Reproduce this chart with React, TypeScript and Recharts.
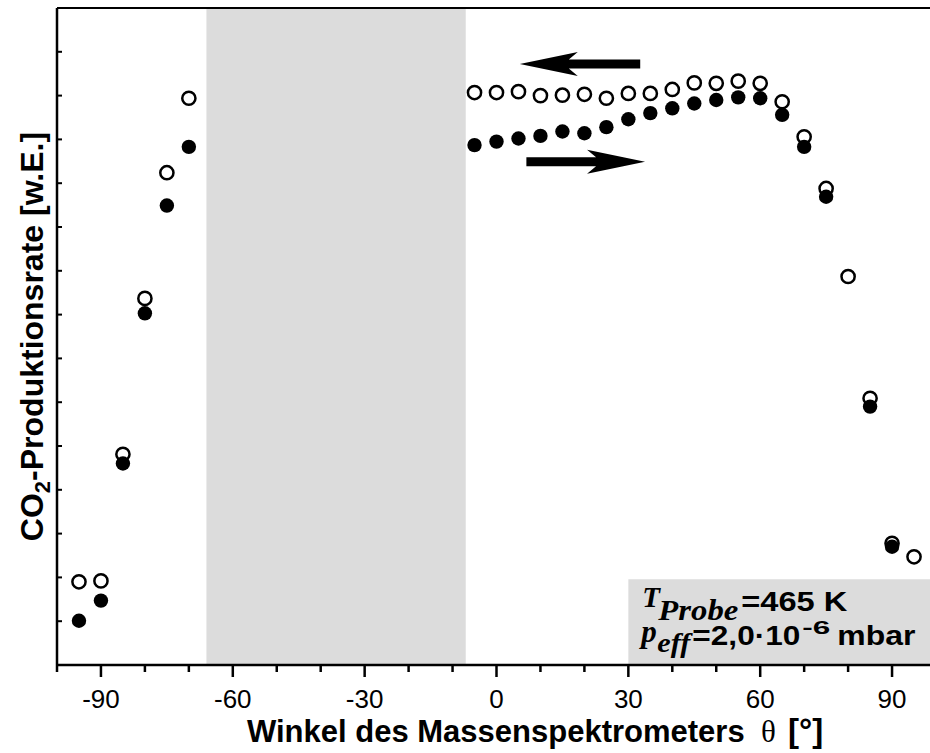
import React from 'react';
import { ScatterChart, Scatter, XAxis, YAxis, ReferenceArea, ReferenceLine } from 'recharts';

// ---- data ----
const openAngles = [-95, -90, -85, -80, -75, -70, -5, 0, 5, 10, 15, 20, 25, 30, 35, 40, 45, 50, 55, 60, 65, 70, 75, 80, 85, 90, 95];
const openRates = [1.90, 1.92, 4.81, 8.37, 11.24, 12.94, 13.07, 13.07, 13.09, 13.00, 13.01, 13.03, 12.94, 13.05, 13.05, 13.14, 13.29, 13.28, 13.33, 13.28, 12.86, 12.06, 10.88, 8.87, 6.09, 2.78, 2.47];

const filledAngles = [-95, -90, -85, -80, -75, -70, -5, 0, 5, 10, 15, 20, 25, 30, 35, 40, 45, 50, 55, 60, 65, 70, 75, 85, 90];
const filledRates = [1.01, 1.47, 4.60, 8.03, 10.49, 11.83, 11.87, 11.95, 12.02, 12.08, 12.18, 12.14, 12.28, 12.46, 12.60, 12.71, 12.82, 12.90, 12.96, 12.94, 12.56, 11.83, 10.69, 5.90, 2.70];

const xTicks = [-100, -90, -80, -70, -60, -50, -40, -30, -20, -10, 0, 10, 20, 30, 40, 50, 60, 70, 80, 90, 100];
const yTicks = [0, 1, 2, 3, 4, 5, 6, 7, 8, 9, 10, 11, 12, 13, 14, 15];

const shadedFrom = -66;
const shadedTo = -7;
const boxX = [30, 100];
const boxY = [0, 1.96];

const arrowBack = [{ x: 32.7, y: 13.72 }, { x: 5.3, y: 13.72 }];
const arrowForward = [{ x: 6.8, y: 11.49 }, { x: 33.8, y: 11.49 }];

const openData = openAngles.map((a, i) => ({ angle: a, rate: openRates[i] }));
const filledData = filledAngles.map((a, i) => ({ angle: a, rate: filledRates[i] }));

const SANS = '"Liberation Sans", Arial, Helvetica, sans-serif';
const SERIF = '"Liberation Serif", "Times New Roman", Times, serif';

const XTick = (props: any) => {
  const { x, y, payload } = props;
  const v = payload.value;
  const major = v % 30 === 0 && Math.abs(v) <= 90;
  return (
    <g>
      <line x1={x} x2={x} y1={y} y2={y + (major ? 12 : 7)} stroke="#000" strokeWidth={2.5} />
      {major && (
        <text x={x} y={y + 43} textAnchor="middle" fontSize={26} fontFamily={SANS} fill="#000">
          {v}
        </text>
      )}
    </g>
  );
};

const YTick = (props: any) => {
  const { x, y } = props;
  return <line x1={x} x2={x + 5} y1={y} y2={y} stroke="#000" strokeWidth={2} />;
};

const XTitle = (props: any) => {
  const vb = props.viewBox || { x: 57, y: 665 };
  const bx = vb.x;
  const by = vb.y + 77;
  return (
    <text y={by} fontSize={31} fontFamily={SANS} fontWeight="bold" fill="#000">
      <tspan x={bx + 190}>Winkel des Massenspektrometers</tspan>
      <tspan x={bx + 704} fontFamily={SERIF} fontWeight="normal" fontSize={31}>θ</tspan>
      <tspan x={bx + 731} fontSize={33}>[°]</tspan>
    </text>
  );
};

const YTitle = (props: any) => {
  const vb = props.viewBox || { x: 0, y: 8, height: 657 };
  const cx = 43;
  const cy = vb.y + vb.height / 2;
  return (
    <text
      x={cx}
      y={cy}
      transform={`rotate(-90, ${cx}, ${cy})`}
      textAnchor="middle"
      fontSize={32}
      fontFamily={SANS}
      fontWeight="bold"
      fill="#000"
    >
      CO<tspan fontSize={22} dy={7}>2</tspan>
      <tspan dy={-7}>-Produktionsrate [w.E.]</tspan>
    </text>
  );
};

const BoxText = (props: any) => {
  const vb = props.viewBox || { x: 628, y: 579 };
  const x = vb.x;
  const y = vb.y;
  return (
    <g fill="#000">
      <text x={x + 14} y={y + 28} fontFamily={SERIF} fontStyle="italic" fontWeight="bold" fontSize={29}>T</text>
      <text x={x + 30} y={y + 41} fontFamily={SERIF} fontStyle="italic" fontWeight="bold" fontSize={30} textLength={80} lengthAdjust="spacingAndGlyphs">Probe</text>
      <text x={x + 113} y={y + 32} fontFamily={SANS} fontWeight="bold" fontSize={28} textLength={106} lengthAdjust="spacingAndGlyphs">=465 K</text>
      <text x={x + 13} y={y + 63} fontFamily={SERIF} fontStyle="italic" fontWeight="bold" fontSize={31}>p</text>
      <text x={x + 29} y={y + 73} fontFamily={SERIF} fontStyle="italic" fontWeight="bold" fontSize={27} textLength={33} lengthAdjust="spacingAndGlyphs">eff</text>
      <text x={x + 64} y={y + 66} fontFamily={SANS} fontWeight="bold" fontSize={28} textLength={108} lengthAdjust="spacingAndGlyphs">=2,0·10</text>
      <text x={x + 174} y={y + 55} fontFamily={SANS} fontWeight="bold" fontSize={18} textLength={28} lengthAdjust="spacingAndGlyphs">-6</text>
      <text x={x + 209} y={y + 66} fontFamily={SANS} fontWeight="bold" fontSize={28} textLength={78} lengthAdjust="spacingAndGlyphs">mbar</text>
    </g>
  );
};

const Arrow = (props: any) => {
  const { x1, y1, x2, y2 } = props;
  const dx = x2 - x1;
  const dy = y2 - y1;
  const len = Math.hypot(dx, dy) || 1;
  const ux = dx / len;
  const uy = dy / len;
  const nx = -uy;
  const ny = ux;
  const head = 58;
  const half = 12;
  const notch = 9;
  const t = 4.5;
  const pt = (a: number, b: number) => `${x2 - ux * a + nx * b},${y2 - uy * a + ny * b}`;
  const points = [
    pt(0, 0),
    pt(head, half),
    pt(head - notch, t),
    pt(len, t),
    pt(len, -t),
    pt(head - notch, -t),
    pt(head, -half),
  ].join(' ');
  return <polygon points={points} fill="#000" />;
};

const OpenDot = (p: any) => <circle cx={p.cx} cy={p.cy} r={6.6} fill="none" stroke="#000" strokeWidth={2.5} />;
const FilledDot = (p: any) => <circle cx={p.cx} cy={p.cy} r={7.2} fill="#000" />;

export default function App() {
  return (
    <div style={{ position: 'fixed', left: 0, top: 0, width: 930, height: 753, overflow: 'hidden', background: '#fff' }}>
      <ScatterChart width={936} height={753} margin={{ top: 8, right: 0, bottom: 0, left: 0 }}>
        <ReferenceArea x1={shadedFrom} x2={shadedTo} fill="#dcdcdc" fillOpacity={1} stroke="none" ifOverflow="visible" />
        <ReferenceArea
          x1={boxX[0]}
          x2={boxX[1]}
          y1={boxY[0]}
          y2={boxY[1]}
          fill="#dcdcdc"
          fillOpacity={1}
          stroke="none"
          ifOverflow="visible"
          label={{ content: BoxText }}
        />
        <XAxis
          type="number"
          dataKey="angle"
          domain={[-100, 100]}
          ticks={xTicks}
          interval={0}
          height={88}
          tickSize={0}
          tickMargin={0}
          tickLine={false}
          tick={XTick}
          axisLine={{ stroke: '#000', strokeWidth: 2.5 }}
          label={{ content: XTitle }}
        />
        <YAxis
          type="number"
          dataKey="rate"
          domain={[0, 15]}
          ticks={yTicks}
          interval={0}
          width={57}
          tickSize={0}
          tickMargin={0}
          tickLine={false}
          tick={YTick}
          axisLine={{ stroke: '#000', strokeWidth: 2.5 }}
          label={{ content: YTitle }}
        />
        <ReferenceLine y={15} stroke="#000" strokeWidth={2} ifOverflow="visible" />
        <ReferenceLine x={100} stroke="#000" strokeWidth={2} ifOverflow="visible" />
        <ReferenceLine segment={arrowBack} shape={Arrow} ifOverflow="visible" />
        <ReferenceLine segment={arrowForward} shape={Arrow} ifOverflow="visible" />
        <Scatter data={openData} shape={OpenDot} isAnimationActive={false} />
        <Scatter data={filledData} shape={FilledDot} isAnimationActive={false} />
      </ScatterChart>
    </div>
  );
}
